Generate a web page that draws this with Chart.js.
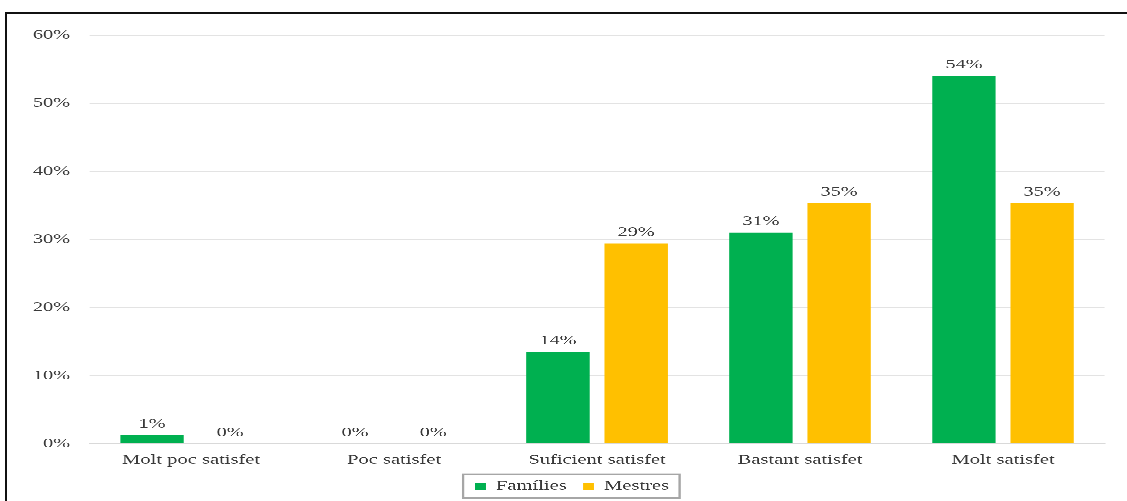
<!DOCTYPE html>
<html>
<head>
<meta charset="utf-8">
<script src="https://cdn.jsdelivr.net/npm/chart.js@4.4.1/dist/chart.umd.min.js"></script>
<style>
  html, body { margin: 0; padding: 0; background: #fff; overflow: hidden; }
  #marc {
    position: absolute; left: 5px; top: 12px; width: 1200px; height: 600px;
    border-top: 2px solid #111; border-left: 2px solid #111; pointer-events: none;
  }
  #caixa {
    position: absolute; left: 0; top: 0; width: 751px; height: 501px;
    transform-origin: 0 0; transform: scaleX(1.5007);
  }
  #barChart { width: 751px; height: 501px; }
</style>
</head>
<body>
<div id="caixa"><canvas id="barChart" width="751" height="501"></canvas></div>
<div id="marc"></div>
<script>
const categories = ["Molt poc satisfet", "Poc satisfet", "Suficient satisfet", "Bastant satisfet", "Molt satisfet"];
const families = [1.3, 0, 13.5, 31, 54];
const mestres = [0, 0, 29.4, 35.3, 35.3];
const yTicks = [0, 10, 20, 30, 40, 50, 60];

const fontFamily = "'Liberation Serif', 'Times New Roman', serif";
const textColor = "#3a3a3a";

// etiquetes damunt de cada barra
const etiquetesBarres = {
    id: "etiquetesBarres",
    afterDatasetsDraw(chart){
        const ctx = chart.ctx;
        ctx.save();
        ctx.font = "13.5px " + fontFamily;
        ctx.fillStyle = textColor;
        ctx.textAlign = "center";
        ctx.textBaseline = "alphabetic";
        chart.data.datasets.forEach((ds, i) => {
            chart.getDatasetMeta(i).data.forEach((bar, j) => {
                ctx.fillText(Math.round(ds.data[j]) + "%", bar.x, bar.y - 7.5);
            });
        });
        ctx.restore();
    }
};

// llegenda una mica a la dreta i requadre al voltant
const desplLlegenda = 2.5;
const requadreLlegenda = {
    id: "requadreLlegenda",
    afterLayout(chart){
        const lg = chart.legend;
        lg.left += desplLlegenda;
        lg.right += desplLlegenda;
    },
    afterDraw(chart){
        const caixes = chart.legend.legendHitBoxes;
        if(!caixes || !caixes.length) return;
        let x0 = Infinity, x1 = -Infinity, y0 = Infinity, y1 = -Infinity;
        caixes.forEach(c => {
            x0 = Math.min(x0, c.left);
            x1 = Math.max(x1, c.left + c.width);
            y0 = Math.min(y0, c.top);
            y1 = Math.max(y1, c.top + c.height);
        });
        const ctx = chart.ctx;
        ctx.save();
        ctx.strokeStyle = "#a6a6a6";
        ctx.lineWidth = 1.5;
        ctx.strokeRect(x0 - 8, y0 - 5, (x1 - x0) + 15, (y1 - y0) + 10);
        ctx.restore();
    }
};

new Chart(document.getElementById("barChart"), {
    type: "bar",
    data: {
        labels: categories,
        datasets: [
            {
                label: "Famílies",
                data: families,
                backgroundColor: "#00B050",
                categoryPercentage: 0.77,
                barPercentage: 0.81
            },
            {
                label: "Mestres",
                data: mestres,
                backgroundColor: "#FFC000",
                categoryPercentage: 0.77,
                barPercentage: 0.81
            }
        ]
    },
    options: {
        responsive: false,
        animation: false,
        devicePixelRatio: 3,
        layout: {
            padding: { top: 35, left: 21.5, right: 15, bottom: -2 }
        },
        scales: {
            x: {
                afterFit(scale){ scale.height = scale.height - 8; },
                grid: { display: false, drawTicks: false },
                border: { color: "#d9d9d9" },
                ticks: {
                    color: textColor,
                    padding: 8,
                    font: { family: fontFamily, size: 13.7 }
                }
            },
            y: {
                min: 0,
                max: 60,
                afterFit(scale){ scale.width = 38.2; },
                afterBuildTicks(scale){
                    scale.ticks = yTicks.map(v => ({ value: v }));
                },
                grid: { color: "#e3e3e3", drawTicks: false },
                border: { display: false },
                ticks: {
                    color: textColor,
                    padding: 13,
                    font: { family: fontFamily, size: 13.5 },
                    callback: function(value){
                        return value + "%";
                    }
                }
            }
        },
        plugins: {
            legend: {
                position: "bottom",
                labels: {
                    color: textColor,
                    boxWidth: 7,
                    boxHeight: 7,
                    padding: 11,
                    font: { family: fontFamily, size: 13.7 }
                }
            },
            tooltip: { enabled: false }
        }
    },
    plugins: [etiquetesBarres, requadreLlegenda]
});
</script>
</body>
</html>
